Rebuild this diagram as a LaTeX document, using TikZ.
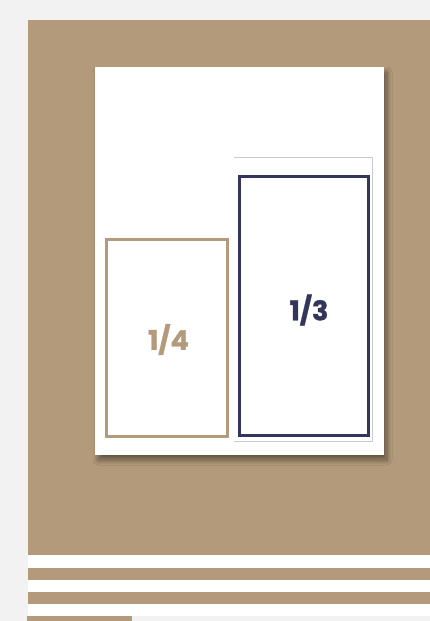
\documentclass[tikz,border=0pt]{standalone}
\usepackage{fontspec}
\newfontfamily\numfont{Poppins}[BoldFeatures={FakeBold=1.2}]
\usetikzlibrary{positioning,shadows.blur}
\definecolor{Paper}{HTML}{F2F2F2}
\definecolor{Sand}{HTML}{B39A7A}
\definecolor{Navy}{HTML}{33365A}
\definecolor{Guide}{HTML}{C8CAD2}
\tikzset{
  page/.style={fill=white,draw=none,minimum width=289pt,minimum height=388pt,inner sep=0pt,
    blur shadow={shadow xshift=3pt,shadow yshift=-5pt,shadow opacity=45,shadow blur radius=5pt,shadow blur steps=10}},
  quarterbox/.style={draw=Sand,line width=3pt,fill=white,minimum width=121pt,minimum height=197pt,inner sep=0pt},
  thirdbox/.style={draw=Navy,line width=3pt,fill=white,minimum width=129pt,minimum height=259pt,inner sep=0pt},
  fraction/.style={inner sep=0pt,font=\numfont\bfseries\fontsize{27}{27}\selectfont},
  band/.style={fill=Sand},
  guideline/.style={draw=Guide,line width=1pt}
}
\begin{document}
\begin{tikzpicture}[x=1pt,y=-1pt]
  \fill[Paper] (0,0) rectangle (430,621);
  \useasboundingbox (0,0) rectangle (430,621);
  % backdrop and stripes
  \fill[band] (28,20) rectangle (430,555);
  \fill[white] (28,555) rectangle (430,616);
  \fill[band] (28,568) rectangle (430,580);
  \fill[band] (28,592) rectangle (430,604);
  \fill[band] (27,616) rectangle (132,621);
  % sheet
  \node[page] (sheet) at (239.5,261) {};
  \coordinate (guideNW) at (234,157);
  \coordinate (guideNE) at (372,157);
  \coordinate (guideSE) at (372,441);
  \coordinate (guideSW) at (234,441);
  \draw[guideline] (guideNW) -- (guideNE) -- (guideSE) -- (guideSW);
  \node[quarterbox] (quarter) at (167,338) {};
  \node[thirdbox] (third) at (304,306) {};
  \node[fraction,text=Sand] (quarterlabel) at (168.5,339.5) {1/4};
  \node[fraction,text=Navy] (thirdlabel) at (309,310) {1/3};
\end{tikzpicture}
\end{document}
